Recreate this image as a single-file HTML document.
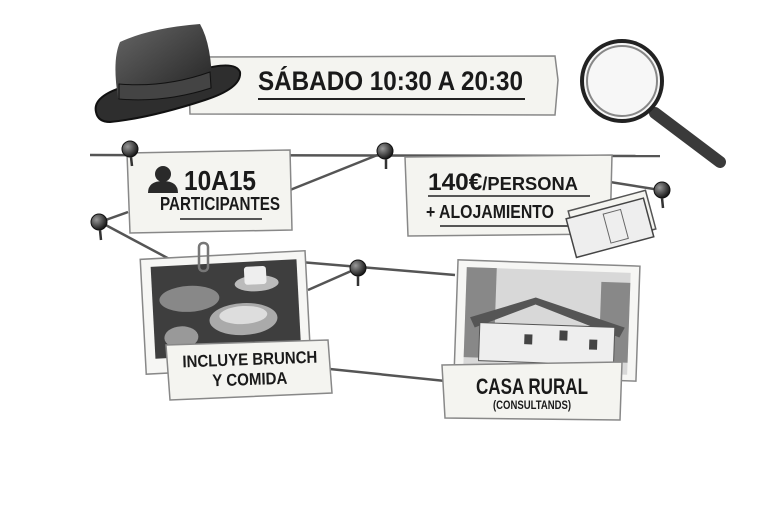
<!DOCTYPE html>
<html><head><meta charset="utf-8">
<style>
html,body{margin:0;padding:0;background:#fff;width:768px;height:512px;overflow:hidden}
svg{display:block}
text{font-family:"Liberation Sans Narrow","Liberation Sans",sans-serif;font-weight:bold;fill:#1a1a1a}
</style></head><body>
<svg width="768" height="512" viewBox="0 0 768 512" xmlns="http://www.w3.org/2000/svg">
<defs>
<linearGradient id="dark" x1="0" y1="0" x2="1" y2="1"><stop offset="0" stop-color="#666"/><stop offset="1" stop-color="#222"/></linearGradient>
<radialGradient id="pin" cx="0.35" cy="0.35" r="0.7"><stop offset="0" stop-color="#999"/><stop offset="1" stop-color="#111"/></radialGradient>
</defs>
<!-- strings -->
<g stroke="#555" stroke-width="2.5" fill="none">
<line x1="90" y1="155" x2="660" y2="156"/>
<line x1="290" y1="190" x2="385" y2="152"/>
<line x1="100" y1="222" x2="128" y2="212"/>
<line x1="100" y1="222" x2="175" y2="262"/>
<line x1="610" y1="182" x2="660" y2="190"/>
<line x1="300" y1="262" x2="455" y2="275"/>
<line x1="308" y1="290" x2="358" y2="268"/>
<line x1="320" y1="368" x2="455" y2="382"/>
</g>
<!-- banner -->
<path d="M188 57 L555 56 L558 80 L555 115 L190 114 Z" fill="#f4f4f0" stroke="#888" stroke-width="1.5"/>
<text x="258" y="90" font-size="27" textLength="265" lengthAdjust="spacingAndGlyphs">SÁBADO 10:30 A 20:30</text>
<line x1="258" y1="99" x2="525" y2="99" stroke="#222" stroke-width="2"/>
<!-- hat -->
<g>
<path d="M96 112 Q92 95 130 85 L200 70 Q235 60 240 72 Q242 88 205 100 Q150 118 110 122 Q98 122 96 112Z" fill="#2e2e2e" stroke="#111" stroke-width="2"/>
<path d="M118 98 Q112 60 120 42 Q150 28 200 24 Q212 45 212 88 Q165 102 118 98Z" fill="url(#dark)"/>
<path d="M119 84 Q165 88 210 72 L211 88 Q165 103 119 99Z" fill="#444" stroke="#111" stroke-width="1"/>
</g>
<!-- magnifier -->
<line x1="655" y1="113" x2="720" y2="162" stroke="#3a3a3a" stroke-width="12" stroke-linecap="round"/>
<circle cx="622" cy="81" r="40" fill="#f7f7f7" stroke="#222" stroke-width="4"/>
<circle cx="622" cy="81" r="35" fill="none" stroke="#888" stroke-width="2"/>
<!-- participants card -->
<path d="M127 153 L290 150 L292 230 L130 233 Z" fill="#f4f4f0" stroke="#888" stroke-width="1.5"/>
<circle cx="163" cy="174" r="8" fill="#2a2a2a"/>
<path d="M148 193 Q148 181 163 181 Q178 181 178 193Z" fill="#2a2a2a"/>
<text x="184" y="190" font-size="28" textLength="72" lengthAdjust="spacingAndGlyphs">10A15</text>
<text x="160" y="210" font-size="18" textLength="120" lengthAdjust="spacingAndGlyphs">PARTICIPANTES</text>
<line x1="180" y1="219" x2="262" y2="219" stroke="#222" stroke-width="1.5"/>
<!-- price card -->
<path d="M405 157 L612 155 L610 234 L408 236 Z" fill="#f4f4f0" stroke="#888" stroke-width="1.5"/>
<text x="428" y="190" font-size="24" textLength="150" lengthAdjust="spacingAndGlyphs">140€<tspan font-size="18">/PERSONA</tspan></text>
<line x1="428" y1="196" x2="590" y2="196" stroke="#222" stroke-width="1.5"/>
<text x="426" y="218" font-size="18" textLength="128" lengthAdjust="spacingAndGlyphs">+ ALOJAMIENTO</text>
<line x1="440" y1="226" x2="575" y2="226" stroke="#222" stroke-width="1.5"/>
<!-- money -->
<g transform="rotate(-15 612 220)">
<rect x="572" y="200" width="80" height="40" fill="#f4f4f0" stroke="#555" stroke-width="1.5"/>
<rect x="568" y="207" width="80" height="40" fill="#eee" stroke="#444" stroke-width="1.5"/>
<rect x="605" y="212" width="18" height="30" fill="none" stroke="#666"/>
</g>
<!-- photo 1 -->
<g transform="rotate(-3 225 310)">
<rect x="143" y="255" width="165" height="115" fill="#f6f6f4" stroke="#888" stroke-width="1.5"/>
<rect x="153" y="263" width="146" height="92" fill="#3e3e3e"/>
<ellipse cx="190" cy="297" rx="30" ry="13" fill="#888"/>
<ellipse cx="243" cy="320" rx="34" ry="16" fill="#aaa"/>
<ellipse cx="243" cy="316" rx="24" ry="9" fill="#ddd"/>
<ellipse cx="258" cy="285" rx="22" ry="8" fill="#bbb"/>
<rect x="246" y="268" width="22" height="18" rx="3" fill="#eee"/>
<ellipse cx="180" cy="335" rx="17" ry="11" fill="#999"/>
</g>
<rect x="199" y="243" width="9" height="28" rx="4" fill="none" stroke="#777" stroke-width="2.5"/>
<path d="M166 345 L328 340 L332 393 L170 400 Z" fill="#f4f4f0" stroke="#888" stroke-width="1.5"/>
<text x="250" y="365" font-size="17" text-anchor="middle" textLength="135" lengthAdjust="spacingAndGlyphs" transform="rotate(-2 250 364)">INCLUYE BRUNCH</text>
<text x="250" y="385" font-size="17" text-anchor="middle" textLength="75" lengthAdjust="spacingAndGlyphs" transform="rotate(-2 250 384)">Y COMIDA</text>
<!-- photo 2 -->
<g transform="rotate(2 548 320)">
<rect x="456" y="263" width="182" height="115" fill="#f6f6f4" stroke="#888" stroke-width="1.5"/>
<rect x="465" y="270" width="164" height="102" fill="#d8d8d8"/>
<rect x="465" y="270" width="30" height="90" fill="#888"/>
<rect x="600" y="280" width="29" height="80" fill="#888"/>
<path d="M470 320 L535 298 L625 325 L620 335 L535 305 L475 330Z" fill="#555"/>
<rect x="480" y="325" width="135" height="38" fill="#eee" stroke="#555"/>
<rect x="525" y="335" width="8" height="10" fill="#444"/><rect x="560" y="330" width="8" height="10" fill="#444"/><rect x="590" y="338" width="8" height="10" fill="#444"/>
</g>
<path d="M442 365 L622 362 L620 420 L445 418 Z" fill="#f4f4f0" stroke="#888" stroke-width="1.5"/>
<text x="532" y="394" font-size="22" text-anchor="middle" textLength="112" lengthAdjust="spacingAndGlyphs">CASA RURAL</text>
<text x="532" y="409" font-size="12" text-anchor="middle" textLength="78" lengthAdjust="spacingAndGlyphs">(CONSULTANDS)</text>
<!-- pins -->
<g fill="url(#pin)" stroke="#111" stroke-width="1">
<circle cx="130" cy="149" r="8"/><circle cx="385" cy="151" r="8"/>
<circle cx="99" cy="222" r="8"/><circle cx="662" cy="190" r="8"/>
<circle cx="358" cy="268" r="8"/>
</g>
<g stroke="#333" stroke-width="2.5">
<line x1="131" y1="157" x2="132" y2="166"/><line x1="386" y1="159" x2="386" y2="169"/>
<line x1="100" y1="230" x2="101" y2="240"/><line x1="662" y1="198" x2="663" y2="208"/>
<line x1="358" y1="276" x2="358" y2="286"/>
</g>
</svg>
</body></html>
